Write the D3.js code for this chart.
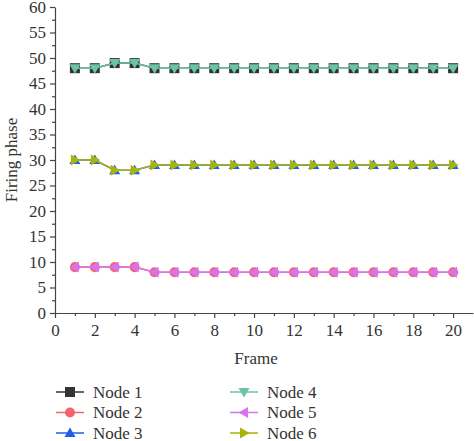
<!DOCTYPE html>
<html>
<head>
<meta charset="utf-8">
<script src="https://cdn.jsdelivr.net/npm/d3@7.9.0/dist/d3.min.js"></script>
<style>
  body { margin: 0; background: #fff; }
  svg text { font-family: "Liberation Serif", "DejaVu Serif", serif !important; fill: #333; }
</style>
</head>
<body>
<svg id="chart" width="474" height="441" font-family="Liberation Serif, serif"></svg>
<script>
const frames = d3.range(1, 21);
const nodeNames = ['Node 1', 'Node 2', 'Node 3', 'Node 4', 'Node 5', 'Node 6'];
const node1 = [48, 48, 49, 49, 48, 48, 48, 48, 48, 48, 48, 48, 48, 48, 48, 48, 48, 48, 48, 48];
const node2 = [9, 9, 9, 9, 8, 8, 8, 8, 8, 8, 8, 8, 8, 8, 8, 8, 8, 8, 8, 8];
const node3 = [30, 30, 28, 28, 29, 29, 29, 29, 29, 29, 29, 29, 29, 29, 29, 29, 29, 29, 29, 29];
const node4 = [48, 48, 49, 49, 48, 48, 48, 48, 48, 48, 48, 48, 48, 48, 48, 48, 48, 48, 48, 48];
const node5 = [9, 9, 9, 9, 8, 8, 8, 8, 8, 8, 8, 8, 8, 8, 8, 8, 8, 8, 8, 8];
const node6 = [30, 30, 28, 28, 29, 29, 29, 29, 29, 29, 29, 29, 29, 29, 29, 29, 29, 29, 29, 29];
const xTicks = [0, 2, 4, 6, 8, 10, 12, 14, 16, 18, 20];
const yTicks = [0, 5, 10, 15, 20, 25, 30, 35, 40, 45, 50, 55, 60];

const seriesValues = [node1, node2, node3, node4, node5, node6];
const colors = ['#333333', '#f7636b', '#1f5ee8', '#6cc3a9', '#d673ef', '#aab30a'];
const shapes = ['square', 'circle', 'up', 'down', 'left', 'right'];

const svg = d3.select('#chart');
const x = d3.scaleLinear().domain([0, 21]).range([55, 473]);
const y = d3.scaleLinear().domain([0, 60]).range([313, 7]);
const axisColor = '#444';
const serif = 'Liberation Serif, DejaVu Serif, serif';

// minor ticks first, then major axis
svg.append('g')
    .attr('transform', `translate(0,${y(0)})`)
    .call(d3.axisBottom(x).tickValues(d3.range(1, 21, 2)).tickSize(3).tickFormat(''))
    .call(g => g.select('.domain').remove());
svg.append('g')
    .attr('transform', `translate(${x(0)},0)`)
    .call(d3.axisLeft(y).tickValues(d3.range(2.5, 60, 5)).tickSize(3).tickFormat(''))
    .call(g => g.select('.domain').remove());

const xAxis = svg.append('g')
    .attr('transform', `translate(0,${y(0)})`)
    .call(d3.axisBottom(x).tickValues(xTicks).tickSize(5).tickSizeOuter(0).tickPadding(6));
const yAxis = svg.append('g')
    .attr('transform', `translate(${x(0)},0)`)
    .call(d3.axisLeft(y).tickValues(yTicks).tickSize(5).tickSizeOuter(0).tickPadding(4));

svg.selectAll('.tick line, .domain').attr('stroke', axisColor).attr('stroke-width', 1.2);
[xAxis, yAxis].forEach(g => {
  g.attr('font-family', serif).attr('font-size', 17);
  g.selectAll('text').attr('font-family', serif).attr('font-size', 17);
});

svg.append('text')
    .attr('x', 256).attr('y', 364)
    .attr('text-anchor', 'middle')
    .attr('font-size', 17)
    .text('Frame');
svg.append('text')
    .attr('transform', `translate(17,${y(30)}) rotate(-90)`)
    .attr('text-anchor', 'middle')
    .attr('font-size', 17)
    .text('Firing phase');

function markerPath(shape, s) {
  const h = s / 2;
  switch (shape) {
    case 'square': return `M${-h},${-h}H${h}V${h}H${-h}Z`;
    case 'circle': return d3.symbol(d3.symbolCircle, s * s * 0.8)();
    case 'up': return `M0,${-h * 1.1}L${h * 1.1},${h * 0.8}L${-h * 1.1},${h * 0.8}Z`;
    case 'down': return `M0,${h * 1.1}L${h * 1.1},${-h * 0.8}L${-h * 1.1},${-h * 0.8}Z`;
    case 'left': return `M${-h * 1.1},0L${h * 0.8},${-h * 1.1}L${h * 0.8},${h * 1.1}Z`;
    case 'right': return `M${h * 1.1},0L${-h * 0.8},${-h * 1.1}L${-h * 0.8},${h * 1.1}Z`;
  }
}

const line = d3.line().x((d, i) => x(frames[i])).y(d => y(d));

seriesValues.forEach((vals, k) => {
  const g = svg.append('g');
  g.append('path')
      .datum(vals)
      .attr('d', line)
      .attr('fill', 'none')
      .attr('stroke', colors[k])
      .attr('stroke-width', 1.5);
  g.selectAll('path.m')
      .data(vals)
      .join('path')
      .attr('class', 'm')
      .attr('transform', (d, i) => `translate(${x(frames[i])},${y(d)})`)
      .attr('d', markerPath(shapes[k], 10))
      .attr('fill', colors[k]);
});

// legend
const legend = svg.append('g');
nodeNames.forEach((name, k) => {
  const col = Math.floor(k / 3), row = k % 3;
  const lx = col === 0 ? 56 : 230;
  const ly = 392 + row * 20.5;
  legend.append('line')
      .attr('x1', lx).attr('x2', lx + 28)
      .attr('y1', ly).attr('y2', ly)
      .attr('stroke', colors[k]).attr('stroke-width', 1.5);
  legend.append('path')
      .attr('transform', `translate(${lx + 14},${ly})`)
      .attr('d', markerPath(shapes[k], 10))
      .attr('fill', colors[k]);
  legend.append('text')
      .attr('x', lx + 37).attr('y', ly + 5.5)
      .attr('font-size', 17)
      .text(name);
});
</script>
</body>
</html>
